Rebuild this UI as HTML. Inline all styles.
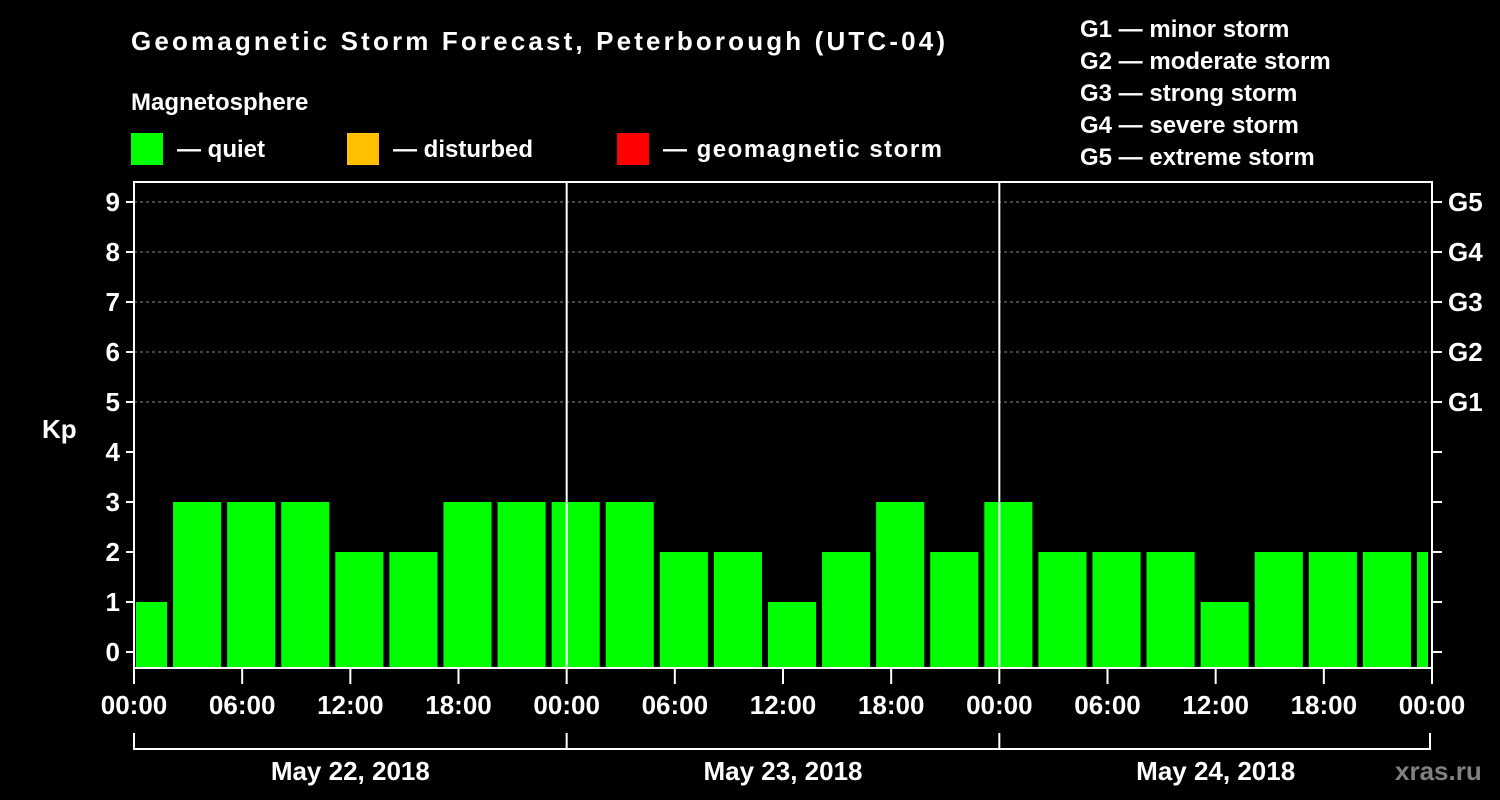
<!DOCTYPE html>
<html><head><meta charset="utf-8"><style>
body{margin:0;background:#000;}
svg{display:block;font-family:"Liberation Sans",Arial,sans-serif;font-weight:bold;}
</style></head><body>
<svg id="c" width="1500" height="800" viewBox="0 0 1500 800">
<rect width="1500" height="800" fill="#000"/>
<text x="131" y="50" fill="#fff" font-size="26" textLength="814">Geomagnetic Storm Forecast, Peterborough (UTC-04)</text>
<text x="131" y="110" fill="#fff" font-size="24">Magnetosphere</text>
<g><rect x="131" y="133" width="32" height="32" fill="#00ff00"/><text x="177" y="157" fill="#fff" font-size="24">— quiet</text></g>
<g><rect x="347" y="133" width="32" height="32" fill="#ffc000"/><text x="393" y="157" fill="#fff" font-size="24">— disturbed</text></g>
<g><rect x="617" y="133" width="32" height="32" fill="#ff0000"/><text x="663" y="157" fill="#fff" font-size="24" textLength="279">— geomagnetic storm</text></g>
<g fill="#fff" font-size="24">
<text x="1080" y="37">G1 — minor storm</text>
<text x="1080" y="69">G2 — moderate storm</text>
<text x="1080" y="101">G3 — strong storm</text>
<text x="1080" y="133">G4 — severe storm</text>
<text x="1080" y="165">G5 — extreme storm</text>
</g>
<text x="42" y="438" fill="#fff" font-size="26">Kp</text>
<text x="1395" y="780" fill="#808080" font-size="26">xras.ru</text>
<g id="plot"></g>
</svg>
<script>
const kpValues=[1,3,3,3,2,2,3,3,3,3,2,2,1,2,3,2,3,2,2,2,1,2,2,2,2];
const yTicks=[0,1,2,3,4,5,6,7,8,9];
const gLabels=["G1","G2","G3","G4","G5"];
const xTickLabels=["00:00","06:00","12:00","18:00","00:00","06:00","12:00","18:00","00:00","06:00","12:00","18:00","00:00"];
const dayLabels=["May 22, 2018","May 23, 2018","May 24, 2018"];
const NS="http://www.w3.org/2000/svg";
const g=document.getElementById('plot');
const X0=134,X1=1432,T=72; // hours
const sx=h=>X0+(X1-X0)*h/T;
const sy=v=>652-50*v;
const BOT=668,TOP=182;
function mk(t,a,txt){const e=document.createElementNS(NS,t);for(const k in a)e.setAttribute(k,a[k]);if(txt!==undefined)e.textContent=txt;g.appendChild(e);return e;}
// grid
for(let v=5;v<=9;v++){const l=mk('line',{x1:X0,x2:X1,y1:sy(v),y2:sy(v),stroke:'#888','stroke-dasharray':'3,3','stroke-width':1});

}
// bars
kpValues.forEach((v,i)=>{let s=sx(3*i-1)+3,e=sx(3*i+2)-3;s=Math.max(s,136);e=Math.min(e,1428);
const r=mk('rect',{x:s,y:sy(v),width:e-s,height:BOT-sy(v),fill:'#00ff00'});

});
// day lines
[24,48].forEach(h=>{const l=mk('line',{x1:sx(h),x2:sx(h),y1:TOP,y2:BOT,stroke:'#fff','stroke-width':2});

});
// axes frame
const fr=mk('rect',{x:X0,y:TOP,width:X1-X0,height:BOT-TOP,fill:'none',stroke:'#fff','stroke-width':2});


yTicks.forEach(v=>{mk('line',{x1:X0-8,x2:X0,y1:sy(v),y2:sy(v),stroke:'#fff','stroke-width':2});
mk('line',{x1:X1,x2:X1+10,y1:sy(v),y2:sy(v),stroke:'#fff','stroke-width':2});
const t=mk('text',{x:X0-14,y:sy(v)+9,fill:'#fff','font-size':26,'text-anchor':'end'},String(v));

});
gLabels.forEach((s,i)=>{const t=mk('text',{x:1448,y:sy(5+i)+9,fill:'#fff','font-size':26},s);

});
xTickLabels.forEach((s,i)=>{const x=sx(6*i);mk('line',{x1:x,x2:x,y1:BOT,y2:BOT+16,stroke:'#fff','stroke-width':2});
const t=mk('text',{x:x,y:714,fill:'#fff','font-size':26,'text-anchor':'middle'},s);

});
mk('line',{x1:X0,x2:X1-2,y1:749,y2:749,stroke:'#fff','stroke-width':2});
[0,24,48,72].forEach(h=>{const x=Math.min(sx(h),X1-2);mk('line',{x1:x,x2:x,y1:733,y2:750,stroke:'#fff','stroke-width':2});});
dayLabels.forEach((s,i)=>{const t=mk('text',{x:sx(24*i+12),y:780,fill:'#fff','font-size':26,'text-anchor':'middle'},s);

});
</script>
</body></html>
